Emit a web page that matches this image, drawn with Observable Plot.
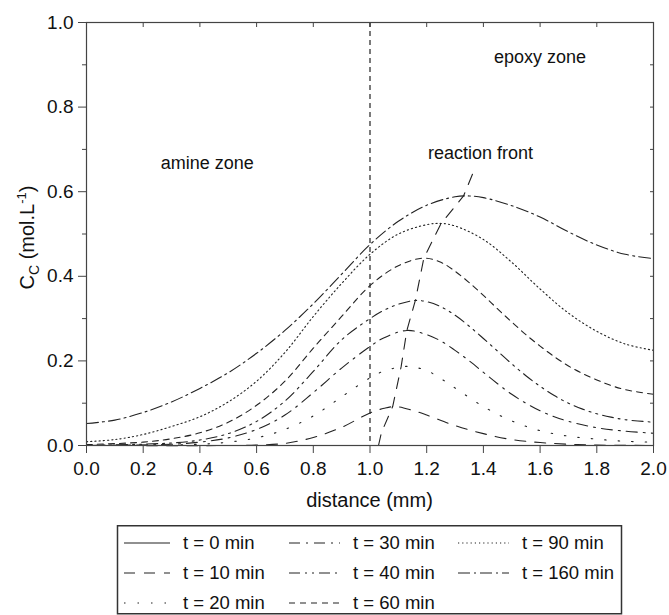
<!DOCTYPE html>
<html><head><meta charset="utf-8">
<script src="https://cdn.jsdelivr.net/npm/d3@7"></script>
<script src="https://cdn.jsdelivr.net/npm/@observablehq/plot@0.6"></script>
<style>
body{margin:0;background:#fff;}
#wrap{position:relative;width:669px;height:615px;font-family:"Liberation Sans",Arial,sans-serif;background:#fff;}
#wrap svg{display:block;}
</style></head><body><div id="wrap"></div>
<script>
// ---- data ----
const seriesNames = ["t = 0 min","t = 10 min","t = 20 min","t = 30 min","t = 40 min","t = 60 min","t = 90 min","t = 160 min"];

const t0_d = [0, 2.0];
const t0_c = [0, 0];

const t10_d = [0, 0.5, 0.6, 0.7, 0.8, 0.9, 1.0, 1.05, 1.09, 1.15, 1.2, 1.3, 1.4, 1.5, 1.6, 1.7, 1.8, 2.0];
const t10_c = [0, 0, 0.001, 0.005, 0.019, 0.043, 0.077, 0.088, 0.092, 0.083, 0.072, 0.047, 0.028, 0.014, 0.007, 0.003, 0.001, 0];

const t20_d = [0, 0.4, 0.5, 0.6, 0.7, 0.8, 0.9, 1.0, 1.05, 1.13, 1.2, 1.25, 1.3, 1.4, 1.5, 1.6, 1.7, 1.8, 1.9, 2.0];
const t20_c = [0, 0.003, 0.008, 0.018, 0.038, 0.070, 0.115, 0.160, 0.176, 0.187, 0.177, 0.158, 0.136, 0.092, 0.058, 0.035, 0.022, 0.015, 0.010, 0.008];

const t30_d = [0, 0.3, 0.4, 0.5, 0.6, 0.7, 0.8, 0.9, 1.0, 1.05, 1.13, 1.2, 1.25, 1.3, 1.35, 1.4, 1.45, 1.5, 1.55, 1.6, 1.65, 1.7, 1.8, 1.9, 2.0];
const t30_c = [0, 0.003, 0.008, 0.018, 0.038, 0.072, 0.125, 0.183, 0.234, 0.255, 0.272, 0.262, 0.247, 0.225, 0.200, 0.173, 0.146, 0.121, 0.100, 0.082, 0.068, 0.057, 0.042, 0.034, 0.029];

const t40_d = [0, 0.3, 0.4, 0.5, 0.6, 0.7, 0.8, 0.9, 1.0, 1.05, 1.1, 1.16, 1.2, 1.25, 1.3, 1.35, 1.4, 1.45, 1.5, 1.55, 1.6, 1.65, 1.7, 1.75, 1.8, 1.85, 1.9, 2.0];
const t40_c = [0, 0.006, 0.013, 0.028, 0.057, 0.105, 0.175, 0.250, 0.300, 0.320, 0.334, 0.343, 0.340, 0.328, 0.308, 0.282, 0.253, 0.223, 0.193, 0.165, 0.140, 0.118, 0.100, 0.086, 0.075, 0.067, 0.061, 0.055];

const t60_d = [0, 0.2, 0.3, 0.4, 0.5, 0.6, 0.7, 0.8, 0.9, 1.0, 1.1, 1.19, 1.25, 1.3, 1.35, 1.4, 1.45, 1.5, 1.55, 1.6, 1.65, 1.7, 1.75, 1.8, 1.85, 1.9, 2.0];
const t60_c = [0.002, 0.008, 0.016, 0.030, 0.055, 0.095, 0.152, 0.230, 0.305, 0.378, 0.425, 0.443, 0.433, 0.412, 0.385, 0.355, 0.323, 0.292, 0.262, 0.235, 0.210, 0.188, 0.170, 0.155, 0.142, 0.132, 0.121];

const t90_d = [0, 0.1, 0.2, 0.3, 0.4, 0.5, 0.6, 0.7, 0.8, 0.9, 1.0, 1.1, 1.2, 1.25, 1.3, 1.4, 1.5, 1.6, 1.7, 1.8, 1.9, 2.0];
const t90_c = [0.009, 0.014, 0.026, 0.045, 0.068, 0.103, 0.152, 0.220, 0.305, 0.383, 0.452, 0.500, 0.522, 0.525, 0.519, 0.487, 0.433, 0.370, 0.313, 0.270, 0.240, 0.225];

const t160_d = [0, 0.1, 0.2, 0.3, 0.4, 0.5, 0.6, 0.7, 0.8, 0.9, 1.0, 1.1, 1.2, 1.3, 1.35, 1.4, 1.5, 1.6, 1.7, 1.8, 1.9, 2.0];
const t160_c = [0.052, 0.060, 0.078, 0.103, 0.135, 0.172, 0.218, 0.272, 0.335, 0.405, 0.475, 0.530, 0.568, 0.588, 0.590, 0.586, 0.567, 0.540, 0.505, 0.474, 0.452, 0.442];

// reaction front path (through the peaks)
const front_d = [1.03, 1.04, 1.08, 1.11, 1.13, 1.16, 1.19, 1.25, 1.33, 1.37];
const front_c = [0.0, 0.03, 0.092, 0.187, 0.272, 0.343, 0.443, 0.524, 0.590, 0.655];

const xTicks = [0, 0.2, 0.4, 0.6, 0.8, 1.0, 1.2, 1.4, 1.6, 1.8, 2.0];
const yMajor = [0, 0.2, 0.4, 0.6, 0.8, 1.0];
const yMinor = [0.1, 0.3, 0.5, 0.7, 0.9];
const yTenths = [0.1, 0.2, 0.3, 0.4, 0.5, 0.6, 0.7, 0.8, 0.9];
const interfaceX = [1.0];

const annotText = ["amine zone", "epoxy zone", "reaction front"];
const annotD = [0.426, 1.60, 1.39];
const annotC = [0.667, 0.918, 0.690];

// ---- styles ----
const dashes = [null, "11,9", "1.5,12", "11,6,2,6", "11,5,2,5,2,5", "6,5", "1.2,3", "12,4,2,4"];
const allD = [t0_d, t10_d, t20_d, t30_d, t40_d, t60_d, t90_d, t160_d];
const allC = [t0_c, t10_c, t20_c, t30_c, t40_c, t60_c, t90_c, t160_c];

const rows = seriesNames.map((name, i) => allD[i].map((d, j) => ({series: name, d, c: allC[i][j]})));
const front = front_d.map((d, i) => ({d, c: front_c[i]}));
const annots = annotText.map((t, i) => ({t, d: annotD[i], c: annotC[i]}));

const ink = "#222";
const lineMarks = rows.map((data, i) => Plot.line(data, {
  x: "d", y: "c", stroke: ink, strokeWidth: 1.1, curve: "catmull-rom",
  strokeDasharray: dashes[i] || undefined
}));

const plot = Plot.plot({
  width: 669, height: 525,
  marginLeft: 86, marginRight: 16, marginTop: 22, marginBottom: 80,
  x: {domain: [0, 2]},
  y: {domain: [0, 1]},
  style: {fontFamily: "'Liberation Sans', Arial, sans-serif", fontSize: "19px", color: "#111", background: "white", overflow: "visible"},
  marks: [
    Plot.axisX(xTicks, {tickSize: 8, tickPadding: 8, tickFormat: d => d.toFixed(1), label: null, stroke: "#444"}),
    Plot.axisX(xTicks, {anchor: "top", tickSize: -4, tickFormat: () => "", label: null, stroke: "#444"}),
    Plot.axisY(yMajor, {tickSize: 8, tickPadding: 5, tickFormat: d => d.toFixed(1), label: null, stroke: "#444"}),
    Plot.axisY(yMinor, {tickSize: 4, tickFormat: () => "", label: null, stroke: "#444"}),
    Plot.axisY(yTenths, {anchor: "right", tickSize: -4, tickFormat: () => "", label: null, stroke: "#444"}),
    Plot.ruleX(interfaceX, {stroke: ink, strokeWidth: 1.2, strokeDasharray: "5,4"}),
    ...lineMarks,
    Plot.line(front, {x: "d", y: "c", stroke: ink, strokeWidth: 1.1, strokeDasharray: "11,9"}),
    Plot.text(annots, {x: "d", y: "c", text: "t", fontSize: 18, fill: "#111"}),
    Plot.frame({stroke: "#444", strokeWidth: 1.2})
  ]
});
const wrap = document.getElementById("wrap");
wrap.appendChild(plot);

// axis titles
const svg = d3.select(plot);
const xs = plot.scale("x"), ys = plot.scale("y");
svg.append("text")
  .attr("x", xs.apply(1.0)).attr("y", 507)
  .attr("text-anchor", "middle").attr("font-size", 20).attr("fill", "#111")
  .text("distance (mm)");
const yl = svg.append("text")
  .attr("transform", `translate(34,${(ys.apply(0) + ys.apply(1)) / 2 + 4}) rotate(-90)`)
  .attr("text-anchor", "middle").attr("font-size", 20).attr("fill", "#111");
yl.append("tspan").text("C");
yl.append("tspan").attr("dy", 5).attr("font-size", 14).text("C");
yl.append("tspan").attr("dy", -5).text(" (mol.L");
yl.append("tspan").attr("dy", -8).attr("font-size", 13).text("-1");
yl.append("tspan").attr("dy", 8).text(")");

// legend
const legendOrder = [[0, 3, 6], [1, 4, 7], [2, 5]];
const colSample = [[124, 170], [289, 340], [458, 509]];
const colText = [183, 353, 522];
const rowY = [18, 48, 78];
const lg = d3.select(wrap).append("svg").attr("width", 669).attr("height", 90)
  .style("font-family", "'Liberation Sans', Arial, sans-serif");
lg.append("rect").attr("x", 117.5).attr("y", 0.75).attr("width", 504).attr("height", 88)
  .attr("fill", "none").attr("stroke", "#333").attr("stroke-width", 1.5);
legendOrder.forEach((row, r) => row.forEach((si, c) => {
  lg.append("line").attr("x1", colSample[c][0]).attr("x2", colSample[c][1])
    .attr("y1", rowY[r]).attr("y2", rowY[r])
    .attr("stroke", ink).attr("stroke-width", 1.1)
    .attr("stroke-dasharray", dashes[si] || null);
  lg.append("text").attr("x", colText[c]).attr("y", rowY[r]).attr("dy", "0.35em")
    .attr("font-size", 18.5).attr("fill", "#111").text(seriesNames[si]);
}));
</script></body></html>
